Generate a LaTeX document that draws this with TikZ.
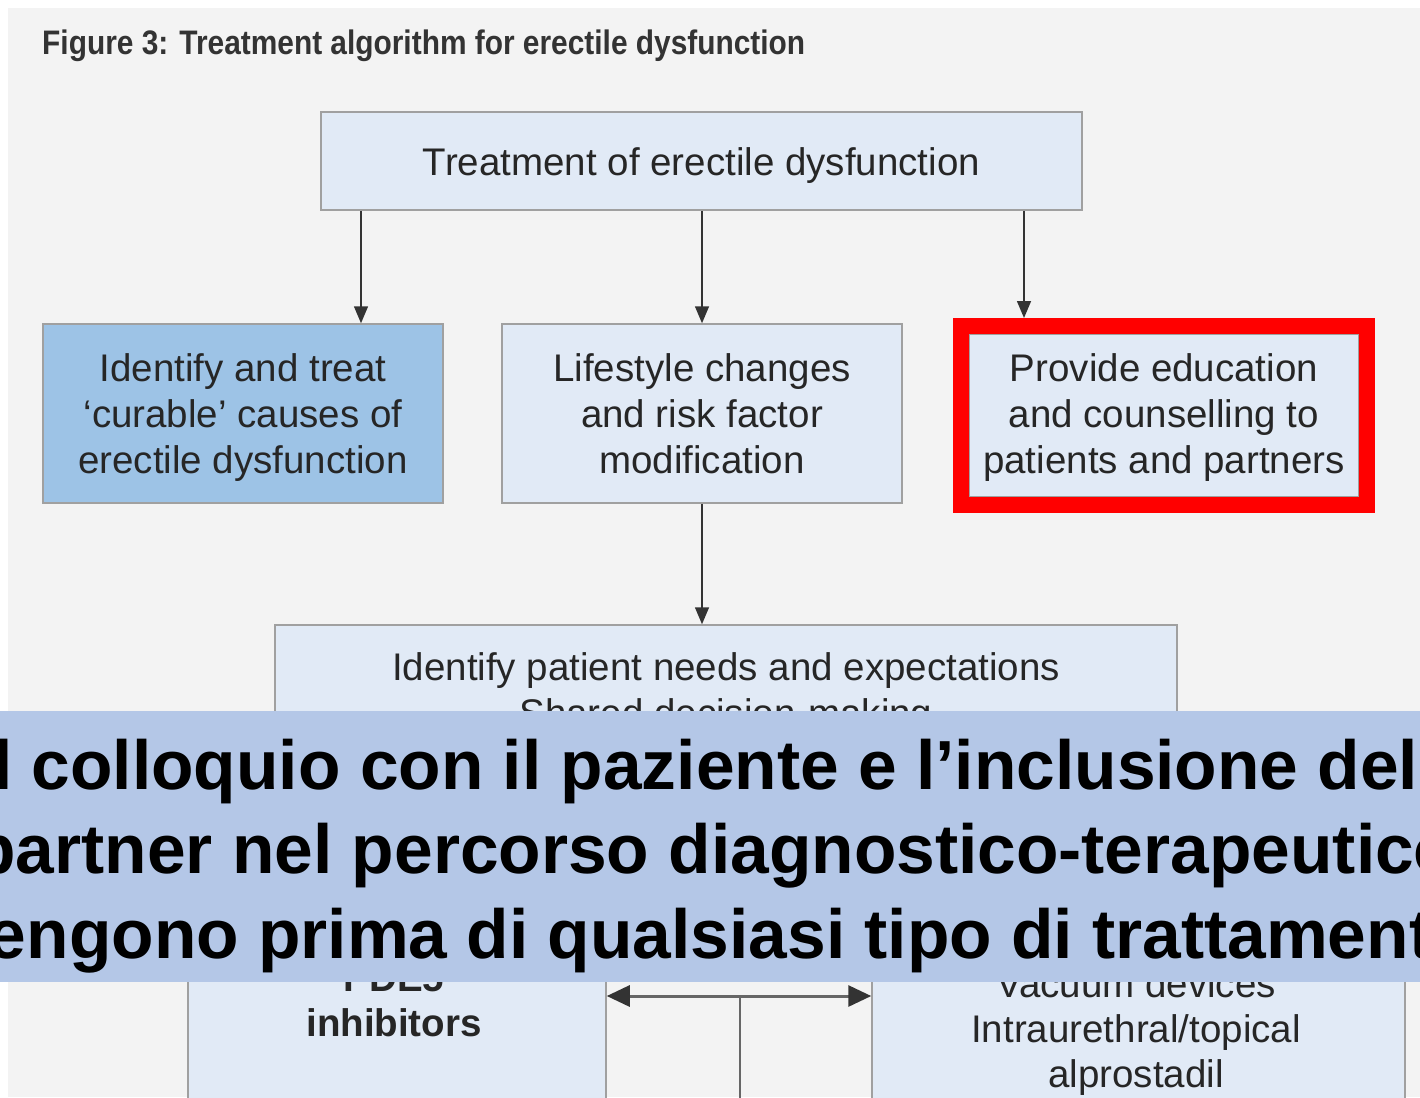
\documentclass[tikz,border=0pt]{standalone}
\usepackage{fontspec}
\setmainfont{Liberation Sans}
\usetikzlibrary{arrows.meta}
\definecolor{bg}{HTML}{F3F3F3}
\definecolor{boxfill}{HTML}{E1EAF6}
\definecolor{boxdark}{HTML}{9DC3E6}
\definecolor{boxline}{HTML}{A0A0A0}
\definecolor{txt}{HTML}{262626}
\definecolor{arrline}{HTML}{333333}
\definecolor{bannercol}{HTML}{B4C7E7}
\definecolor{titlecol}{HTML}{333333}
\newcommand\lstrut{\rule[-9pt]{0pt}{47pt}}
\begin{document}
\begin{tikzpicture}[x=1pt,y=-1pt,
  box/.style={draw=boxline, line width=1.5pt, fill=boxfill, inner sep=0pt, align=center, text=txt, font=\fontsize{38.5}{46}\selectfont,
    execute at begin node=\lstrut, execute at end node=\lstrut},
  emptybox/.style={draw=boxline, line width=1.5pt, fill=boxfill, inner sep=0pt},
  boxtext/.style={inner sep=0pt, align=center, text=txt, font=\fontsize{38.5}{45}\selectfont,
    execute at begin node=\lstrut, execute at end node=\lstrut},
  boxtextb/.style={inner sep=0pt, align=center, text=txt, font=\fontsize{38.5}{46}\selectfont,
    execute at begin node=\lstrut, execute at end node=\lstrut},
  arr/.style={draw=arrline, line width=1.5pt, -{Triangle[width=14pt,length=17pt]}},
  dbl/.style={draw=arrline!75, line width=3pt, {Triangle[width=21pt,length=23pt,color=arrline]}-{Triangle[width=21pt,length=23pt,color=arrline]}},
  plainline/.style={draw=arrline!75, line width=1.5pt},
  hlframe/.style={draw=red, line width=16pt, inner sep=0pt},
  bannerbox/.style={fill=bannercol, inner sep=0pt, minimum width=1420pt, minimum height=271pt},
  bannertext/.style={inner sep=0pt, align=center, text=black, font=\fontsize{69.5}{84.5}\selectfont\bfseries},
]
\useasboundingbox (0,0) rectangle (1420,1097);
\begin{scope}
\clip (0,0) rectangle (1420,1097);
\fill[white] (0,0) rectangle (1420,1097);
\fill[bg] (8,8) rectangle (1420,1097);

\node[anchor=base west, inner sep=0pt, text=titlecol] (title) at (42,55)
  {\resizebox{763pt}{\height}{\bfseries\fontsize{34}{34}\selectfont Figure 3: Treatment algorithm for erectile dysfunction}};

\node[box, minimum width=761pt, minimum height=98pt] (top) at (701.5,161) {Treatment of erectile dysfunction};

\node[emptybox, fill=boxdark, minimum width=400pt, minimum height=179pt] (A) at (243,413.5) {};
\node[boxtextb] (At) at (243,418.5) {Identify and treat\\‘curable’ causes of\\erectile dysfunction};
\node[emptybox, minimum width=400pt, minimum height=179pt] (B) at (702,413.5) {};
\node[boxtextb] (Bt) at (702,418.5) {Lifestyle changes\\and risk factor\\modification};
\node[emptybox, minimum width=390pt, minimum height=163pt] (C) at (1164,415.5) {};
\node[boxtextb] (Ct) at (1164,418.5) {Provide education\\and counselling to\\patients and partners};
\node[emptybox, minimum width=902pt, minimum height=130pt] (D) at (726,690) {};
\node[boxtextb] (Dt) at (726,694) {Identify patient needs and expectations\\Shared decision-making};

\node[emptybox, minimum width=418pt, minimum height=200pt] (E) at (397,1030) {};
\node[boxtext, font=\fontsize{38.5}{45}\selectfont\bfseries] (Et) at (394,1005) {PDE5\\inhibitors};
\node[emptybox, minimum width=533pt, minimum height=200pt] (F) at (1138.5,1030) {};
\node[boxtext] (Ft) at (1136,1033) {Vacuum devices\\Intraurethral/topical\\alprostadil};

\coordinate (x1) at (361,0);
\coordinate (x2) at (702,0);
\coordinate (x3) at (1024,0);
\draw[arr] (x1 |- top.south) -- (x1 |- A.north);
\draw[arr] (x2 |- top.south) -- (x2 |- B.north);
\draw[arr] (B.south) -- (B.south |- D.north);

\coordinate (m) at (740,996);
\coordinate (mb) at (740,1120);
\draw[plainline] (m) -- (mb);
\draw[dbl] (E.east |- m) -- (F.west |- m);

\node[hlframe, minimum width=406pt, minimum height=179pt] (hl) at (1164,415.5) {};
\draw[arr] (x3 |- top.south) -- (x3 |- hl.north);

\node[bannerbox] (ban) at (710,846.5) {};
\node[bannertext] (bant) at (696,856) {Il colloquio con il paziente e l’inclusione del\\\hspace*{38pt}partner nel percorso diagnostico-terapeutico\\\hspace*{32pt}vengono prima di qualsiasi tipo di trattamento};
\end{scope}
\end{tikzpicture}
\end{document}
